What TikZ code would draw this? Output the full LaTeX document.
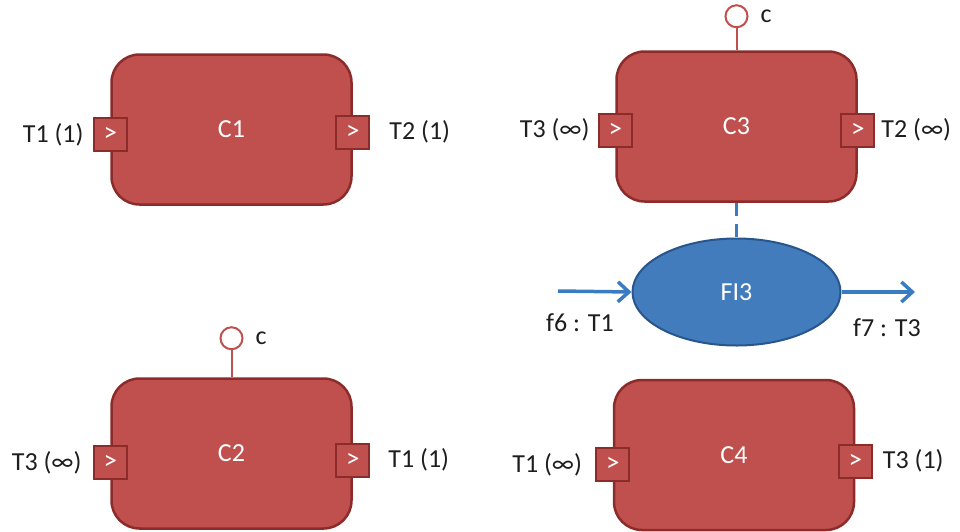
\documentclass[tikz,border=0pt]{standalone}
\usepackage{fontspec}
\setmainfont{Carlito}
\usepackage{tikz}
\usetikzlibrary{arrows.meta,positioning,shapes.geometric}
\definecolor{compfill}{RGB}{192,80,77}
\definecolor{compedge}{RGB}{140,44,42}
\definecolor{flowfill}{RGB}{66,124,189}
\definecolor{flowedge}{RGB}{40,86,140}
\definecolor{flowline}{RGB}{58,124,194}
\definecolor{txt}{RGB}{30,30,30}
\tikzset{
  comp/.style={rectangle, draw=compedge, fill=compfill, line width=2.5pt,
               rounded corners=28pt, minimum width=240pt, minimum height=150pt,
               text=white, font=\fontsize{26}{30}\selectfont},
  port/.style={rectangle, draw=compedge, fill=compfill, line width=2pt,
               minimum size=33pt, inner sep=0pt, text=white,
               font=\fontsize{27}{30}\selectfont},
  iface/.style={circle, draw=compfill, fill=white, line width=2pt,
                minimum size=22pt, inner sep=0pt},
  stub/.style={draw=compfill, line width=2pt},
  flowel/.style={ellipse, draw=flowedge, fill=flowfill, line width=2pt,
                 minimum width=208pt, minimum height=107pt, text=white,
                 font=\fontsize{26}{30}\selectfont},
  fl/.style={-{Straight Barb[length=11pt, width=20pt]}, draw=flowline, line width=3.5pt},
  dl/.style={draw=flowline, line width=3pt, dash pattern=on 13pt off 8pt},
  lbl/.style={text=txt, inner sep=0pt, font=\fontsize{26}{30}\selectfont},
}
\begin{document}
\begin{tikzpicture}[x=1pt, y=-1pt]
\useasboundingbox (0,0) rectangle (960,531);
\node[comp] (C1) at (231.5,129.5) {C1};
\node[comp] (C2) at (231.5,453.5) {C2};
\node[comp] (C3) at (736.5,126.5) {C3};
\node[comp] (C4) at (734,455) {C4};
\node[flowel] (FI3) at (736.5,292) {FI3};
\node[port] (C1in) at ([yshift=-5pt]C1.west) {>};
\node[port] (C1out) at ([yshift=-2.5pt]C1.east) {>};
\node[port] (C2in) at ([yshift=-9pt]C2.west) {>};
\node[port] (C2out) at ([yshift=-6.5pt]C2.east) {>};
\node[port] (C3in) at ([yshift=-3.5pt]C3.west) {>};
\node[port] (C3out) at ([yshift=-3.5pt]C3.east) {>};
\node[port] (C4in) at ([yshift=-9.5pt]C4.west) {>};
\node[port] (C4out) at ([yshift=-6pt]C4.east) {>};
\node[lbl, left=9pt of C1in] (C1inl) {T1 (1)};
\node[lbl, right=19pt of C1out] (C1outl) {T2 (1)};
\node[lbl, left=11pt of C2in] (C2inl) {T3 (∞)};
\node[lbl, right=18pt of C2out] (C2outl) {T1 (1)};
\node[lbl, left=8pt of C3in] (C3inl) {T3 (∞)};
\node[lbl, right=6pt of C3out] (C3outl) {T2 (∞)};
\node[lbl, left=13pt of C4in] (C4inl) {T1 (∞)};
\node[lbl, right=10pt of C4out] (C4outl) {T3 (1)};
\node[iface] (C2c) at ([yshift=39pt]C2.north) {};
\node[iface] (C3c) at ([yshift=34pt]C3.north) {};
\draw[stub] (C2.north) -- (C2c);
\draw[stub] (C3.north) -- (C3c);
\node[lbl, right=12pt of C2c] (C2cl) {c};
\node[lbl, right=12pt of C3c] (C3cl) {c};
\draw[dl] (C3.south) -- (FI3.north);
\coordinate (f6) at (558,291);
\coordinate (f7) at (915,292);
\draw[fl] (f6) -- (FI3.west);
\draw[fl] (FI3.east) -- (f7);
\node[lbl] (f6l) at (580,323) {f6 : T1};
\node[lbl] (f7l) at (887,328) {f7 : T3};
\end{tikzpicture}
\end{document}
